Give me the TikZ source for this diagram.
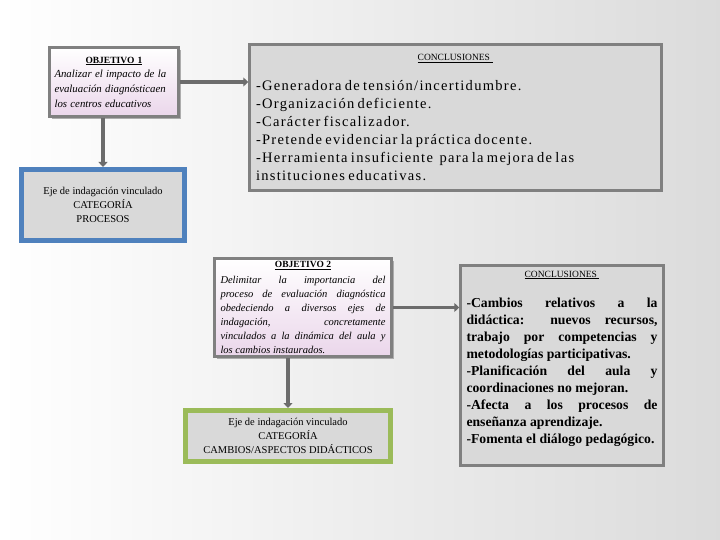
\documentclass[tikz,border=0pt]{standalone}
\usepackage{fontspec}
\setmainfont{Liberation Serif}
\usepackage{xcolor}
\usetikzlibrary{arrows.meta, positioning, shadows}

\begin{document}
\begin{tikzpicture}[
    x=1pt, y=-1pt,
    objbox/.style={draw=gray, line width=2.5pt, top color=white, bottom color=violet!16, inner xsep=5pt, inner ysep=3pt, align=left, drop shadow={shadow xshift=2.5pt, shadow yshift=-2.5pt, fill=gray!70, opacity=0.9}},
    concbox/.style={draw=gray, line width=2.5pt, fill=gray!30, inner xsep=6pt, inner ysep=4pt},
    ejebox/.style={line width=5pt, fill=gray!30, align=center, font=\fontsize{10.5}{14}\selectfont},
    arrow/.style={line width=3.5pt, draw=gray!85!black, -{Triangle[length=5pt,width=9pt]}}
]

% Background
\useasboundingbox (0,0) rectangle (720,540);
\shade[left color=white, right color=gray!28] (0,0) rectangle (720,540);

% Nodes
\node (obj1) [objbox, minimum width=129, minimum height=69, text width=119] at (114,82)
    {\hfill{\fontsize{9.5}{12}\selectfont\bfseries\underline{OBJETIVO 1}}\hfill\null\\[-1pt]
     \fontsize{10.8}{15}\selectfont\itshape Analizar el impacto de la\\ evaluación diagnósticaen\\ los centros educativos\\[1pt]};
\node (conc1) [concbox, minimum width=412, minimum height=146, text width=399, align=left] at (455.5,117.5)
    {\hfill{\fontsize{9.5}{12}\selectfont\underline{CONCLUSIONES\ }}\hfill\null\\[12pt]
     \fontsize{14.5}{18}\selectfont\addfontfeature{LetterSpace=9}%
     -Generadora de tensión/incertidumbre.\\
     -Organización deficiente.\\
     -Carácter fiscalizador.\\
     -Pretende evidenciar la práctica docente.\\
     -Herramienta insuficiente\ \ para la mejora de las\\
     instituciones educativas.\\[14pt]};
\node (eje1) [ejebox, draw={rgb,255:red,79;green,129;blue,189}, minimum width=163, minimum height=71] at (103,205)
    {Eje de indagación vinculado\\ CATEGORÍA\\ PROCESOS};
\node (obj2) [objbox, minimum width=177, minimum height=98, text width=165, align=justify] at (303,307.5)
    {{\centering\fontsize{9.5}{12}\selectfont\bfseries\underline{OBJETIVO 2}\par}\vspace{2pt}
     \fontsize{10.5}{14}\selectfont\itshape Delimitar la importancia del\linebreak
     proceso de evaluación diagnóstica\linebreak
     obedeciendo a diversos ejes de\linebreak
     indagación, concretamente\linebreak
     vinculados a la dinámica del aula y\linebreak
     los cambios instaurados.\par};
\node (eje2) [ejebox, draw={rgb,255:red,155;green,187;blue,89}, minimum width=205, minimum height=51] at (288,436)
    {Eje de indagación vinculado\\ CATEGORÍA\\ CAMBIOS/ASPECTOS DIDÁCTICOS};
\node (conc2) [concbox, minimum width=199, minimum height=200, text width=191, align=justify] at (562,365.5)
    {{\centering\fontsize{9.5}{12}\selectfont\underline{CONCLUSIONES\ }\par}\vspace{13pt}
     \fontsize{13.7}{17}\selectfont\bfseries
     -Cambios relativos a la\linebreak
     didáctica: nuevos recursos,\linebreak
     trabajo por competencias y\linebreak
     metodologías participativas.\par
     -Planificación del aula y\linebreak
     coordinaciones no mejoran.\par
     -Afecta a los procesos de\linebreak
     enseñanza aprendizaje.\par
     -Fomenta el diálogo pedagógico.\par\null};

% Links
\draw[arrow] (obj1.east) -- (obj1.east -| conc1.west);
\draw[arrow] (eje1.north |- obj1.south) -- (eje1.north);
\draw[arrow] (obj2.east) -- (obj2.east -| conc2.west);
\draw[arrow] (eje2.north |- obj2.south) -- (eje2.north);

\end{tikzpicture}
\end{document}
